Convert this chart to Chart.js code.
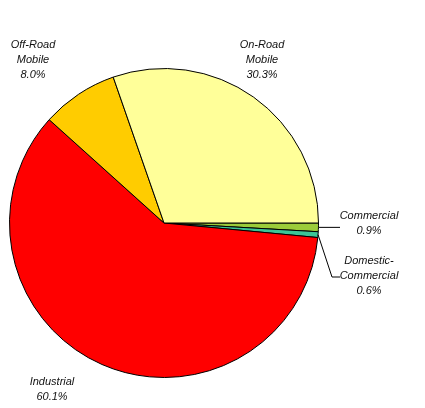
<!DOCTYPE html>
<html>
<head>
<meta charset="utf-8">
<script src="https://cdn.jsdelivr.net/npm/chart.js@4/dist/chart.umd.min.js"></script>
<style>
    html, body { margin: 0; padding: 0; background: #fff; }
    #wrap { width: 425px; height: 408px; }
</style>
</head>
<body>
<div id="wrap"><canvas id="pieChart" width="425" height="408"></canvas></div>
<script>
// Emission share by source category (%)
const categories = ['Commercial', 'Domestic-Commercial', 'Industrial', 'Off-Road Mobile', 'On-Road Mobile'];
const shares = [0.9, 0.6, 60.1, 8.0, 30.3];
const sliceColors = ['#9ccc3a', '#3cc497', '#ff0000', '#ffcc00', '#ffff99'];

// Label text lines and where each block sits
const labelLines = [
    ['Commercial', '0.9%'],
    ['Domestic-', 'Commercial', '0.6%'],
    ['Industrial', '60.1%'],
    ['Off-Road', 'Mobile', '8.0%'],
    ['On-Road', 'Mobile', '30.3%']
];
const labelPos = [
    { x: 369, y: 216 },
    { x: 369, y: 261 },
    { x: 52, y: 382 },
    { x: 33, y: 45 },
    { x: 262, y: 45 }
];

const sliceLabels = {
    id: 'sliceLabels',
    afterDatasetsDraw(chart) {
        const ctx = chart.ctx;
        const arcs = chart.getDatasetMeta(0).data;
        ctx.save();
        ctx.font = 'italic 11px "Liberation Sans", Arial, sans-serif';
        ctx.fillStyle = '#111';
        ctx.textAlign = 'center';
        ctx.textBaseline = 'middle';
        labelLines.forEach((lines, i) => {
            const p = labelPos[i];
            lines.forEach((t, k) => ctx.fillText(t, p.x, p.y + k * 15));
        });

        // leader lines for the two thin slices
        ctx.strokeStyle = '#000';
        ctx.lineWidth = 1;
        [0, 1].forEach(i => {
            const a = arcs[i];
            const mid = (a.startAngle + a.endAngle) / 2;
            const sx = a.x + Math.cos(mid) * a.outerRadius;
            const sy = a.y + Math.sin(mid) * a.outerRadius;
            ctx.beginPath();
            ctx.moveTo(sx, sy);
            if (i === 0) {
                ctx.lineTo(340, sy);
            } else {
                ctx.lineTo(332, labelPos[1].y + 16);
                ctx.lineTo(340, labelPos[1].y + 16);
            }
            ctx.stroke();
        });
        ctx.restore();
    }
};

new Chart(document.getElementById('pieChart').getContext('2d'), {
    type: 'pie',
    data: {
        labels: categories,
        datasets: [{
            data: shares,
            backgroundColor: sliceColors,
            borderColor: '#000',
            borderWidth: 1
        }]
    },
    options: {
        responsive: false,
        animation: false,
        rotation: 90,
        layout: { padding: { left: 9, right: 106, top: 68, bottom: 30 } },
        plugins: {
            legend: { display: false },
            tooltip: { enabled: false }
        }
    },
    plugins: [sliceLabels]
});
</script>
</body>
</html>
